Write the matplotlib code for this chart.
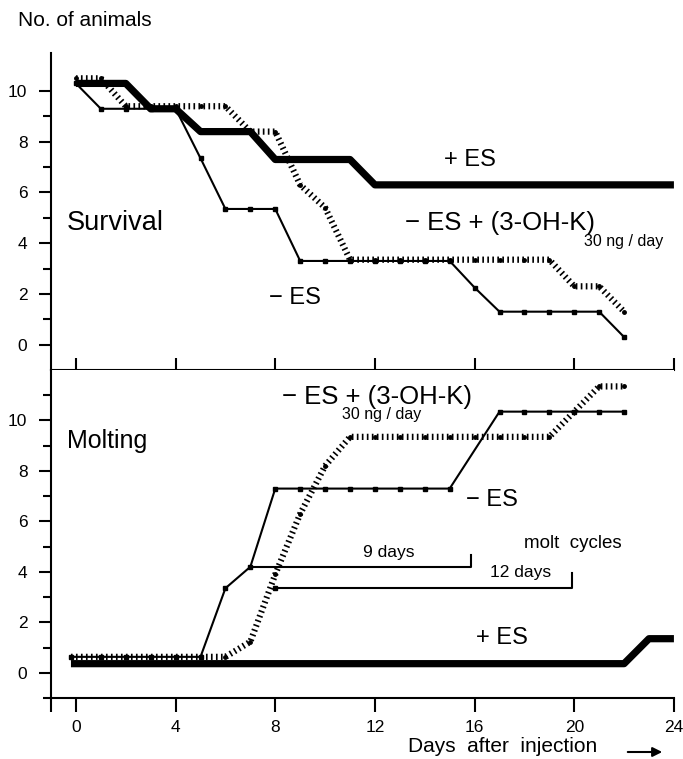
import matplotlib.pyplot as plt

plt.rcParams['font.family'] = ['Liberation Sans', 'DejaVu Sans']
plt.rcParams['lines.scale_dashes'] = False

# Survival (top panel), number of animals per day
surv_plus_days = list(range(0, 25))
surv_plus = [10.3, 10.3, 10.3, 9.3, 9.3, 8.4, 8.4, 8.4, 7.3, 7.3, 7.3, 7.3,
             6.3, 6.3, 6.3, 6.3, 6.3, 6.3, 6.3, 6.3, 6.3, 6.3, 6.3, 6.3, 6.3]

surv_minus_days = list(range(0, 23))
surv_minus = [10.3, 9.3, 9.3, 9.3, 9.3, 7.35, 5.35, 5.35, 5.35, 3.3, 3.3, 3.3,
              3.3, 3.3, 3.3, 3.3, 2.25, 1.3, 1.3, 1.3, 1.3, 1.3, 0.3]

surv_ohk_days = list(range(0, 23))
surv_ohk = [10.5, 10.5, 9.4, 9.4, 9.4, 9.4, 9.4, 8.4, 8.4, 6.3, 5.4, 3.35,
            3.35, 3.35, 3.35, 3.35, 3.35, 3.35, 3.35, 3.35, 2.3, 2.3, 1.3]

# Molting (bottom panel)
molt_plus_days = [-0.2] + list(range(1, 25))
molt_plus = [0.36] * 23 + [1.35, 1.35]

molt_minus_days = [-0.2] + list(range(1, 16)) + list(range(17, 23))
molt_minus = [0.63, 0.63, 0.63, 0.63, 0.63, 0.63, 3.35, 4.2, 7.3, 7.3, 7.3,
              7.3, 7.3, 7.3, 7.3, 7.3, 10.35, 10.35, 10.35, 10.35, 10.35, 10.35]

molt_ohk_days = [-0.2] + list(range(1, 23))
molt_ohk = [0.63, 0.63, 0.63, 0.63, 0.63, 0.63, 0.63, 1.23, 3.9, 6.3, 8.2,
            9.35, 9.35, 9.35, 9.35, 9.35, 9.35, 9.35, 9.35, 9.35, 10.35, 11.35, 11.35]

# molt cycle brackets
cycle_start = [7, 8]
cycle_end = [15.85, 19.9]
cycle_level = [4.2, 3.35]
cycle_top = [4.65, 3.97]
cycle_labels = ['9 days', '12 days']

x_ticks = [0, 4, 8, 12, 16, 20, 24]
y_ticks = [0, 2, 4, 6, 8, 10]

fig = plt.figure(figsize=(6.83, 7.59), dpi=100)
ax1 = fig.add_axes([0.0747, 0.5125, 0.912, 0.4177])
ax2 = fig.add_axes([0.0747, 0.0804, 0.912, 0.4321])


def draw_series(ax, pd, pv, md, mv, hd, hv):
    # thick solid = + ES
    ax.plot(pd, pv, color='black', lw=5.2, solid_capstyle='butt', zorder=2)
    # hatched = - ES + (3-OH-K)
    ax.plot(hd, hv, color='black', lw=4.5, linestyle=(0, (1.2, 2.4)),
            dash_capstyle='butt', zorder=3)
    ax.plot(hd, hv, 'o', color='black', ms=2.5, zorder=3)
    # thin line with markers = - ES
    ax.plot(md, mv, color='black', lw=1.5, marker='s', ms=3.5, zorder=4)


draw_series(ax1, surv_plus_days, surv_plus, surv_minus_days, surv_minus,
            surv_ohk_days, surv_ohk)
draw_series(ax2, molt_plus_days, molt_plus, molt_minus_days, molt_minus,
            molt_ohk_days, molt_ohk)

for i in range(len(cycle_start)):
    ax2.plot([cycle_start[i], cycle_end[i], cycle_end[i]],
             [cycle_level[i], cycle_level[i], cycle_top[i]], color='black', lw=1.5)
ax2.plot(cycle_start[1], cycle_level[1], 's', color='black', ms=3.5)

for ax in [ax1, ax2]:
    ax.set_xlim(-1, 24)
    ax.spines['top'].set_visible(False)
    ax.spines['right'].set_visible(False)
    ax.spines['left'].set_linewidth(1.5)
    ax.spines['bottom'].set_linewidth(1.5)
    ax.set_xticks(x_ticks)
    ax.set_yticks(y_ticks)
    ax.set_yticklabels([str(v) for v in y_ticks], fontsize=12.5)
    ax.tick_params(axis='y', which='major', direction='out', length=9, width=1.5, pad=8)
    ax.tick_params(axis='y', which='minor', direction='out', length=6, width=1.5)

ax1.set_ylim(-1, 11.5)
ax1.set_yticks([1, 3, 5, 7, 9], minor=True)
ax1.set_xticklabels([])
ax1.tick_params(axis='x', which='major', direction='in', length=9, width=1.5)

ax2.set_ylim(-1, 12)
ax2.set_yticks([-1, 1, 3, 5, 7, 9, 11], minor=True)
ax2.set_xticks([-1], minor=True)
ax2.set_xticklabels([str(v) for v in x_ticks], fontsize=12.5)
ax2.tick_params(axis='x', which='both', direction='out', length=10, width=1.5, pad=6)

# texts in the top panel
ax1.text(-0.35, 4.8, 'Survival', fontsize=19.5, ha='left', va='center')
ax1.text(15.8, 7.3, '+ ES', fontsize=17, ha='center', va='center')
ax1.text(17.0, 4.8, '\u2212 ES + (3-OH-K)', fontsize=18.5, ha='center', va='center')
ax1.text(22.0, 4.05, '30 ng / day', fontsize=11.5, ha='center', va='center')
ax1.text(8.8, 1.82, '\u2212 ES', fontsize=17, ha='center', va='center')

# texts in the bottom panel
ax2.text(-0.35, 9.2, 'Molting', fontsize=18, ha='left', va='center')
ax2.text(12.1, 10.95, '\u2212 ES + (3-OH-K)', fontsize=18.5, ha='center', va='center')
ax2.text(12.25, 10.22, '30 ng / day', fontsize=11.5, ha='center', va='center')
ax2.text(16.7, 6.83, '\u2212 ES', fontsize=17, ha='center', va='center')
ax2.text(17.1, 1.39, '+ ES', fontsize=17, ha='center', va='center')
ax2.text(19.96, 5.12, 'molt  cycles', fontsize=13.5, ha='center', va='center')
ax2.text(12.56, 4.76, cycle_labels[0], fontsize=12.5, ha='center', va='center')
ax2.text(17.84, 3.97, cycle_labels[1], fontsize=12.5, ha='center', va='center')

fig.text(18 / 683, 1 - 20 / 759, 'No. of animals', fontsize=15, ha='left', va='center')
fig.text(503 / 683, 1 - 747 / 759, 'Days  after  injection', fontsize=15,
         ha='center', va='center')
ax2.annotate('', xy=(665 / 683, 1 - 752 / 759), xytext=(625 / 683, 1 - 752 / 759),
             xycoords='figure fraction', textcoords='figure fraction',
             arrowprops=dict(arrowstyle='-|>', color='black', lw=1.5, mutation_scale=14))

fig.savefig('out.png', dpi=100)
